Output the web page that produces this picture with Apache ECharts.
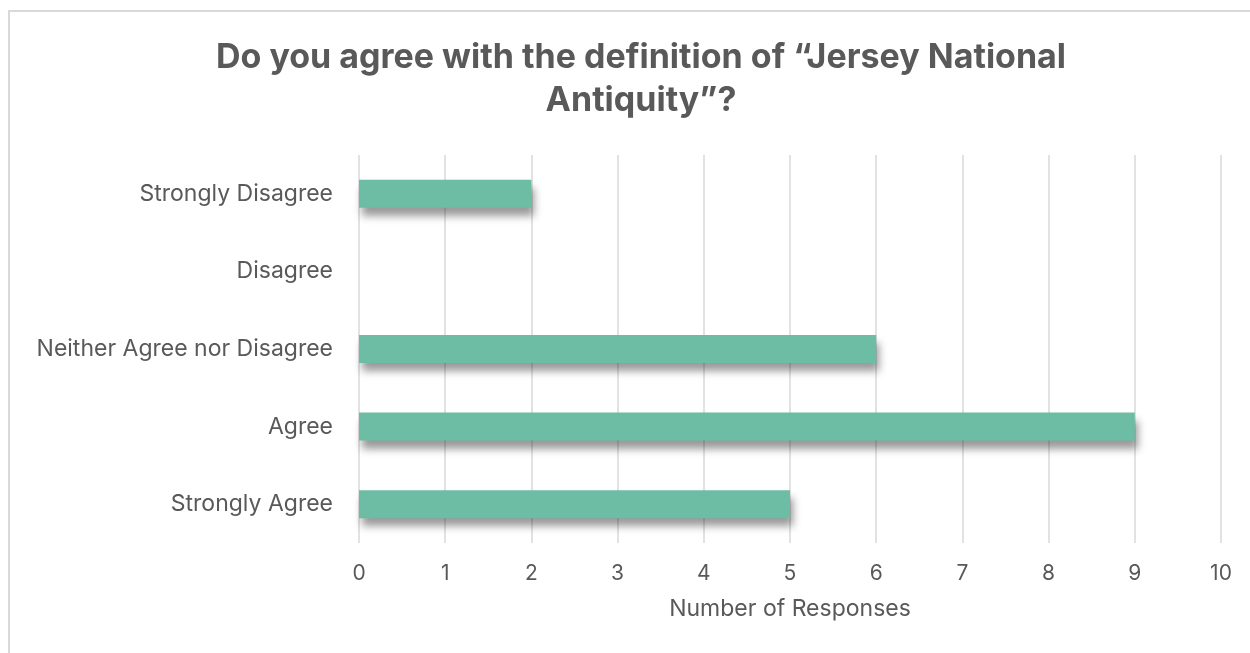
<!DOCTYPE html>
<html>
<head>
<meta charset="utf-8">
<script src="https://cdn.jsdelivr.net/npm/echarts@6/dist/echarts.min.js"></script>
<style>
  html, body { margin: 0; padding: 0; background: #fff; }
  #chart { width: 1250px; height: 653px; }
</style>
</head>
<body>
<div id="chart"></div>
<script>
// Survey answers, listed bottom to top as drawn on the category axis
const categories = ['Strongly Agree', 'Agree', 'Neither Agree nor Disagree', 'Disagree', 'Strongly Disagree'];
const responses = [5, 9, 6, 0, 2];
const xTicks = [0, 1, 2, 3, 4, 5, 6, 7, 8, 9, 10];

const chart = echarts.init(document.getElementById('chart'), null, { renderer: 'canvas' });
const textColor = '#595959';
const font = 'Inter, "Open Sans", "Noto Sans", sans-serif';

chart.setOption({
  backgroundColor: '#fff',
  animation: false,
  title: {
    text: 'Do you agree with the definition of \u201cJersey National\nAntiquity\u201d?',
    left: 636,
    top: 31,
    textAlign: 'center',
    textStyle: {
      color: textColor,
      fontFamily: font,
      fontWeight: 'bold',
      fontSize: 34,
      lineHeight: 43
    }
  },
  graphic: [{
    type: 'polyline',
    shape: { points: [[9, 660], [9, 11], [1260, 11]] },
    style: { stroke: '#d9d9d9', lineWidth: 2, fill: null },
    silent: true
  }],
  grid: { left: 359, right: 29, top: 155, bottom: 110 },
  xAxis: {
    type: 'value',
    min: xTicks[0],
    max: xTicks[xTicks.length - 1],
    interval: 1,
    name: 'Number of Responses',
    nameLocation: 'middle',
    nameGap: 55,
    nameTextStyle: { color: textColor, fontFamily: font, fontSize: 23 },
    axisLine: { show: false },
    axisTick: { show: false },
    axisLabel: { color: textColor, fontFamily: font, fontSize: 21, margin: 20 },
    splitLine: { show: true, lineStyle: { color: '#d9d9d9', width: 1.5 } }
  },
  yAxis: {
    type: 'category',
    data: categories,
    axisLine: { show: false },
    axisTick: { show: false },
    axisLabel: { color: textColor, fontFamily: font, fontSize: 23, margin: 26 },
    splitLine: { show: false }
  },
  series: [{
    type: 'bar',
    data: responses,
    barWidth: 28,
    itemStyle: {
      color: '#6cbda3',
      shadowColor: 'rgba(0,0,0,0.4)',
      shadowBlur: 8,
      shadowOffsetX: 3,
      shadowOffsetY: 8
    }
  }]
});
</script>
</body>
</html>
